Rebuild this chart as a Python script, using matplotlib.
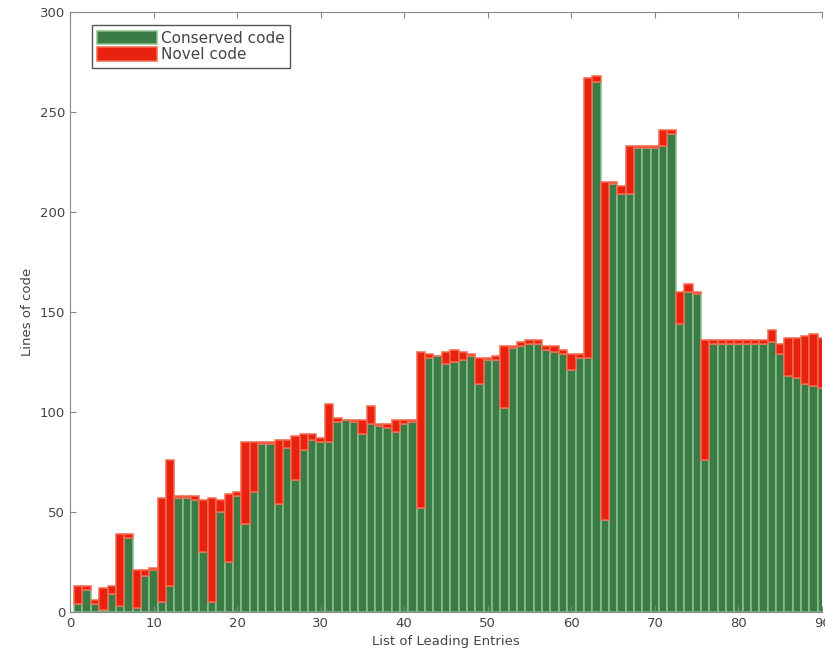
import matplotlib
matplotlib.use("Agg")
import matplotlib.pyplot as plt
import numpy as np

# 每个条目：保留代码行数 / 总行数
entries = list(range(1, 91))
conserved = [4, 11, 4, 1, 9, 3, 37, 2, 18, 21,
             5, 13, 57, 57, 56, 30, 5, 50, 25, 58,
             44, 60, 84, 84, 54, 82, 66, 81, 86, 85,
             85, 95, 96, 95, 89, 94, 93, 92, 90, 94,
             95, 52, 127, 128, 124, 125, 126, 128, 114, 126,
             126, 102, 132, 133, 134, 134, 131, 130, 129, 121,
             127, 127, 265, 46, 214, 209, 209, 232, 232, 232,
             233, 239, 144, 160, 159, 76, 134, 134, 134, 134,
             134, 134, 134, 135, 129, 118, 117, 114, 113, 112]
total = [13, 13, 6, 12, 13, 39, 39, 21, 21, 22,
         57, 76, 58, 58, 58, 56, 57, 56, 59, 60,
         85, 85, 85, 85, 86, 86, 88, 89, 89, 87,
         104, 97, 96, 96, 96, 103, 94, 94, 96, 96,
         96, 130, 129, 128, 130, 131, 130, 129, 127, 127,
         128, 133, 133, 135, 136, 136, 133, 133, 131, 129,
         129, 267, 268, 215, 215, 213, 233, 233, 233, 233,
         241, 241, 160, 164, 160, 136, 136, 136, 136, 136,
         136, 136, 136, 141, 134, 137, 137, 138, 139, 137]
novel = [t - c for t, c in zip(total, conserved)]

GREEN = '#3b7b45'
RED = '#e8220e'
TXT = '#444444'

fig = plt.figure(figsize=(8.25, 6.68), dpi=100)
ax = fig.add_axes([0.0848, 0.0838, 0.9116, 0.8982])

ax.bar(entries, conserved, width=1.0, color=GREEN, edgecolor='#8cbf8c',
       linewidth=1.1, label='Conserved code')
ax.bar(entries, novel, bottom=conserved, width=1.0, color=RED,
       edgecolor='#f26a50', linewidth=1.1, label='Novel code')

ax.set_xlim(0, 90)
ax.set_ylim(0, 300)
ax.set_xticks(np.arange(0, 91, 10))
ax.set_yticks(np.arange(0, 301, 50))
ax.tick_params(direction='in', length=4, colors='#888888', labelcolor=TXT,
               labelsize=9.5, top=True)
for s in ['left', 'bottom', 'top']:
    ax.spines[s].set_color('#888888')
ax.spines['right'].set_visible(False)

ax.set_xlabel('List of Leading Entries', fontsize=9.5, color=TXT)
ax.set_ylabel('Lines of code', fontsize=9.5, color=TXT)

leg = ax.legend(loc='upper left', bbox_to_anchor=(0.029, 0.978), fontsize=11,
                fancybox=False, framealpha=1, edgecolor='#555555',
                handlelength=3.9, handleheight=1.0, borderpad=0.35,
                labelspacing=0.1, handletextpad=0.3, borderaxespad=0)
for t in leg.get_texts():
    t.set_color(TXT)

fig.savefig('out.png', dpi=100)
